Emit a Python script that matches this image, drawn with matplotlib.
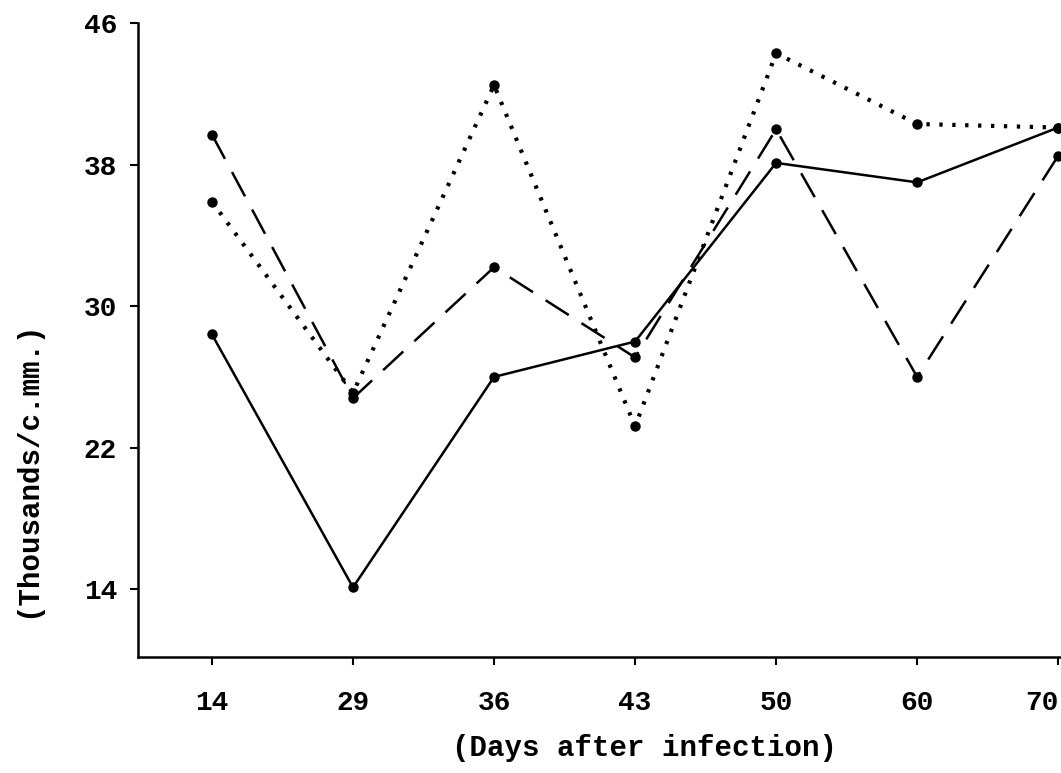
import matplotlib.pyplot as plt

# Data
days = ["14", "29", "36", "43", "50", "60", "70"]
series_solid = [28.4, 14.1, 26.0, 28.0, 38.1, 37.0, 40.1]
series_dashed = [39.7, 24.8, 32.2, 27.1, 40.0, 26.0, 38.5]
series_dotted = [35.9, 25.1, 42.5, 23.2, 44.3, 40.3, 40.1]
y_ticks = [14, 22, 30, 38, 46]

typewriter = "Liberation Mono"

fig = plt.figure(figsize=(10.61, 7.73), dpi=100)
ax = fig.add_axes([0.130, 0.150, 0.870, 0.820])

x = list(range(len(days)))
ax.plot(x, series_solid, color="black", lw=1.8, marker="o", ms=6.5, clip_on=False)
ax.plot(x, series_dashed, color="black", lw=1.8, linestyle=(0, (11, 6)),
        marker="o", ms=6.5, clip_on=False)
ax.plot(x, series_dotted, color="black", lw=3.0, linestyle=(0, (0.8, 2.3)),
        marker="o", ms=6.5, clip_on=False)

ax.set_xlim(-0.525, 6.02)
ax.set_ylim(10.16, 46)
ax.set_xticks(x)
ax.set_xticklabels(days)
ax.set_yticks(y_ticks)

for side in ["top", "right"]:
    ax.spines[side].set_visible(False)
for side in ["left", "bottom"]:
    ax.spines[side].set_linewidth(1.8)

ax.tick_params(axis="y", direction="out", length=6, width=1.5, pad=9)
ax.tick_params(axis="x", direction="out", length=6, width=1.5, pad=18)
for lab in ax.get_xticklabels() + ax.get_yticklabels():
    lab.set_fontfamily(typewriter)
    lab.set_fontsize(20)
    lab.set_fontweight("bold")
# keep the last day label inside the figure edge
ax.get_xticklabels()[-1].set_horizontalalignment("right")

fig.text(0.607, 0.032, "(Days after infection)", ha="center", va="center",
         fontfamily=typewriter, fontsize=21, fontweight="bold")
fig.text(0.026, 0.393, "(Thousands/c.mm.)", ha="center", va="center",
         rotation=90, fontfamily=typewriter, fontsize=21, fontweight="bold")

plt.savefig("out.png")
